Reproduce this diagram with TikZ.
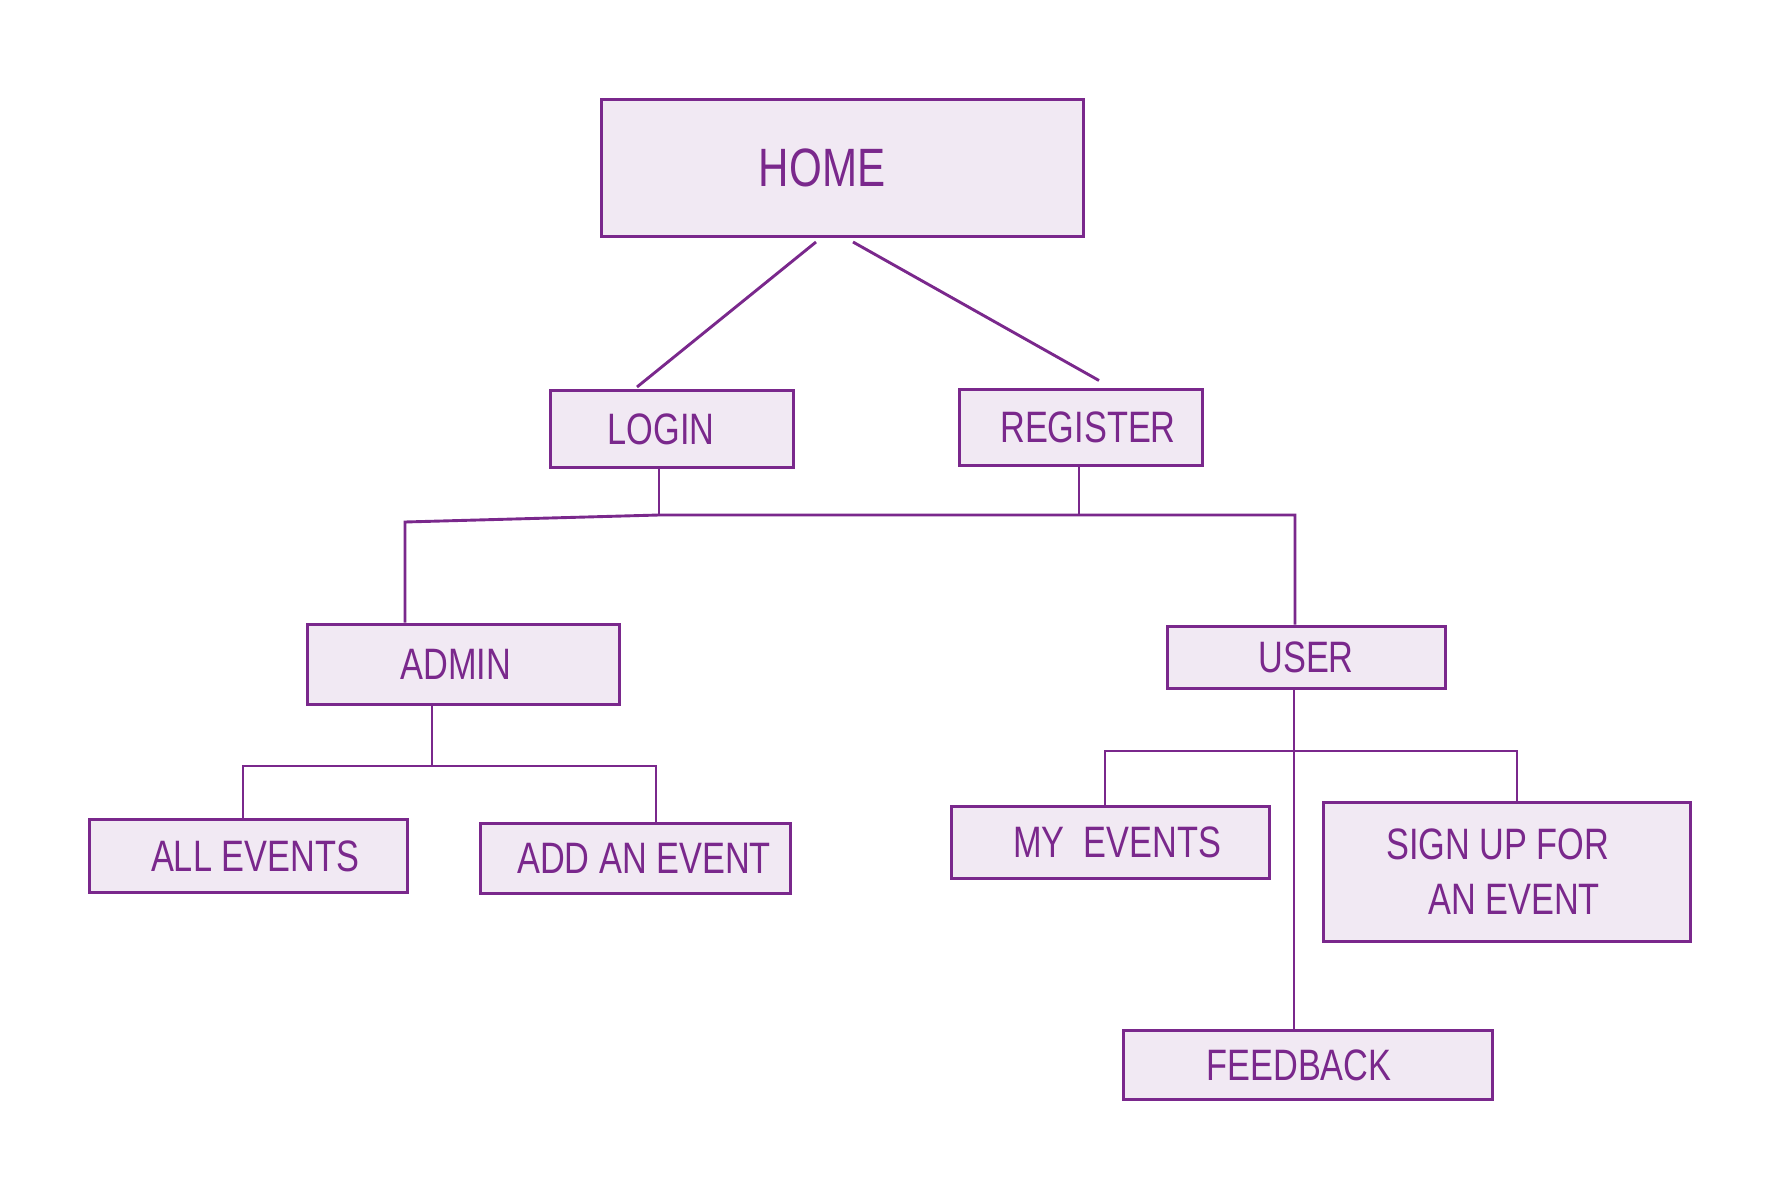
\documentclass[tikz,border=0pt]{standalone}
\usepackage{fontspec}
\setmainfont{Liberation Sans}
\usetikzlibrary{calc,positioning}
\definecolor{SketchPurple}{RGB}{122,40,140}
\definecolor{SketchFill}{RGB}{241,233,243}
\newcommand{\hand}[1]{\scalebox{0.78}[1]{#1}}

\begin{document}
\begin{tikzpicture}[x=1pt,y=-1pt]
\tikzstyle{page}=[draw=SketchPurple,line width=3pt,fill=SketchFill,text=SketchPurple,font=\fontsize{44}{55}\selectfont,inner sep=0pt]
\tikzstyle{link}=[draw=SketchPurple,line width=2.9pt]
\useasboundingbox (0,0) rectangle (1788,1196);
\node[page,minimum width=482pt,minimum height=137pt,font=\fontsize{54}{60}\selectfont] (home) at (842,168) {\hand{HOME}\hspace*{40pt}};
\node[page,minimum width=243pt,minimum height=77pt] (login) at (672,429) {\hand{LOGIN}\hspace*{22pt}};
\node[page,minimum width=243pt,minimum height=76pt] (register) at (1081,427) {\hspace*{14pt}\hand{REGISTER}};
\node[page,minimum width=312pt,minimum height=80pt] (admin) at (463,664) {\hand{ADMIN}\hspace*{14pt}};
\node[page,minimum width=278pt,minimum height=62pt] (user) at (1306,657) {\hand{USER}};
\node[page,minimum width=318pt,minimum height=73pt] (allev) at (248,856) {\hspace*{14pt}\hand{ALL EVENTS}};
\node[page,minimum width=310pt,minimum height=70pt] (addev) at (635,858) {\hspace*{18pt}\hand{ADD AN EVENT}};
\node[page,minimum width=318pt,minimum height=72pt] (myev) at (1110,842) {\hspace*{14pt}\hand{MY\ \ EVENTS}};
\node[page,minimum width=367pt,minimum height=139pt,align=left] (signup) at (1507,872) {\hand{SIGN UP FOR}\\\hspace*{42pt}\hand{AN EVENT}\hspace*{28pt}};
\node[page,minimum width=369pt,minimum height=69pt] (feedback) at (1308,1065) {\hand{FEEDBACK}\hspace*{18pt}};
% junctions
\coordinate (busL) at (405,522);
\coordinate (busJ) at (659,515);
\coordinate (busR) at (1295,515);
\coordinate (regJ) at (1079,515);
\coordinate (adJ) at (432,766);
\coordinate (adL) at (243,766);
\coordinate (adR) at (656,766);
\coordinate (usJ) at (1294,751);
\coordinate (usL) at (1105,751);
\coordinate (usR) at (1517,751);
% home
\draw[link] ([xshift=-26pt,yshift=-4pt]home.south) -- ([xshift=-35pt,yshift=2pt]login.north);
\draw[link] ([xshift=11pt,yshift=-4pt]home.south) -- ([xshift=18pt,yshift=7pt]register.north);
% login and register
\draw[link] (login.south -| busJ) -- (busJ);
\draw[link] (register.south -| regJ) -- (regJ);
\draw[link] (admin.north -| busL) -- (busL) -- (busJ) -- (busR) -- (user.north -| busR);
% admin
\draw[link] (admin.south -| adJ) -- (adJ);
\draw[link] (allev.north -| adL) -- (adL) -- (adR) -- (addev.north -| adR);
% user
\draw[link] (user.south -| usJ) -- (feedback.north -| usJ);
\draw[link] (myev.north -| usL) -- (usL) -- (usR) -- (signup.north -| usR);
\end{tikzpicture}
\end{document}
